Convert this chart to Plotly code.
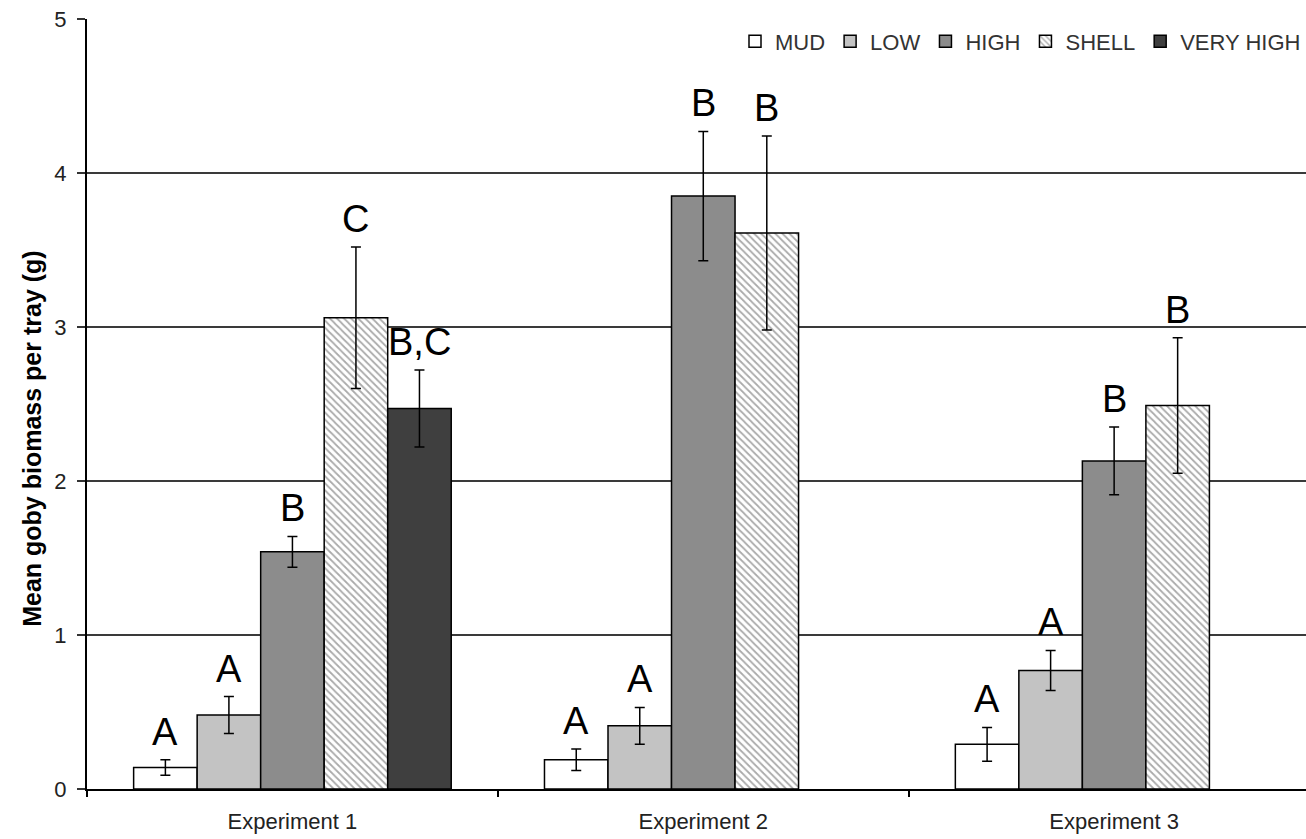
import plotly.graph_objects as go

# Mean goby biomass per tray (g) by habitat treatment, with SE and group letters
experiments = ["Experiment 1", "Experiment 2", "Experiment 3"]
treatments = ["MUD", "LOW", "HIGH", "SHELL", "VERY HIGH"]

mud = [0.14, 0.19, 0.29]
mud_err = [0.05, 0.07, 0.11]
low = [0.48, 0.41, 0.77]
low_err = [0.12, 0.12, 0.13]
high = [1.54, 3.85, 2.13]
high_err = [0.10, 0.42, 0.22]
shell = [3.06, 3.61, 2.49]
shell_err = [0.46, 0.63, 0.44]
very_high = [2.47, None, None]
very_high_err = [0.25, None, None]

mud_letters = ["A", "A", "A"]
low_letters = ["A", "A", "A"]
high_letters = ["B", "B", "B"]
shell_letters = ["C", "B", "B"]
very_high_letters = ["B,C", None, None]

y_title = "Mean goby biomass per tray (g)"

means = [mud, low, high, shell, very_high]
errors = [mud_err, low_err, high_err, shell_err, very_high_err]
letters = [mud_letters, low_letters, high_letters, shell_letters, very_high_letters]

fills = ["#ffffff", "#c3c3c3", "#8c8c8c", "#ffffff", "#3f3f3f"]

BARGAP = 0.227
cat_x = list(range(len(experiments)))

fig = go.Figure()
for i, name in enumerate(treatments):
    marker = dict(color=fills[i], line=dict(color="#000000", width=1.5))
    if name == "SHELL":
        marker["pattern"] = dict(shape="\\", fgcolor="#555555", bgcolor="#ffffff",
                                 size=5, solidity=0.35)
    fig.add_trace(go.Bar(
        name=name,
        x=cat_x,
        y=means[i],
        marker=marker,
        error_y=dict(type="data", array=errors[i], visible=True,
                     color="#000000", thickness=1.5, width=5),
    ))

# significance letters above each error bar
group_w = 1 - BARGAP
bar_w = group_w / len(treatments)
annotations = []
for i in range(len(treatments)):
    for j, cx in enumerate(cat_x):
        if means[i][j] is None or letters[i][j] is None:
            continue
        annotations.append(dict(
            x=cx - group_w / 2 + bar_w * (i + 0.5),
            y=means[i][j] + errors[i][j],
            xref="x", yref="y",
            text=letters[i][j], showarrow=False,
            yanchor="bottom", yshift=5,
            font=dict(family="Liberation Sans, Arial, sans-serif", size=38, color="#000000"),
        ))

# y-axis title, set slightly below the plot's vertical centre
annotations.append(dict(
    x=-0.045, y=0.455, xref="paper", yref="paper",
    text="<b>" + y_title + "</b>", textangle=-90, showarrow=False,
    xanchor="center", yanchor="middle",
    font=dict(family="Liberation Sans, Arial, sans-serif", size=25, color="#000000"),
))

fig.update_layout(
    width=1306, height=839,
    margin=dict(l=87, r=0, t=19, b=50),
    paper_bgcolor="#ffffff", plot_bgcolor="#ffffff",
    barmode="group", bargap=BARGAP, bargroupgap=0,
    font=dict(family="Liberation Sans, Arial, sans-serif", size=22, color="#222222"),
    annotations=annotations,
    legend=dict(orientation="h", x=1, xanchor="right", y=0.998, yanchor="top",
                font=dict(size=22, color="#333333"), bgcolor="rgba(0,0,0,0)",
                itemwidth=30, traceorder="normal"),
    xaxis=dict(
        range=[-0.5, 2.467],
        tickmode="array", tickvals=cat_x, ticktext=experiments,
        ticks="", showgrid=False, zeroline=False,
        showline=True, linecolor="#000000", linewidth=1.5,
        ticklabelstandoff=12,
        tickfont=dict(size=22, color="#222222"),
        minor=dict(tickmode="array", tickvals=[-0.5, 0.5, 1.5], ticks="outside",
                   ticklen=6, tickwidth=1.5, tickcolor="#000000", showgrid=False),
    ),
    yaxis=dict(
        range=[0, 5], tickvals=[0, 1, 2, 3, 4, 5],
        ticks="outside", ticklen=8, tickwidth=1.5, tickcolor="#333333",
        showgrid=True, gridcolor="#3a3a3a", gridwidth=1.5,
        zeroline=False, showline=True, linecolor="#000000", linewidth=2,
        ticklabelstandoff=6,
        tickfont=dict(size=22, color="#222222"),
    ),
)

fig.write_html("out.html")
